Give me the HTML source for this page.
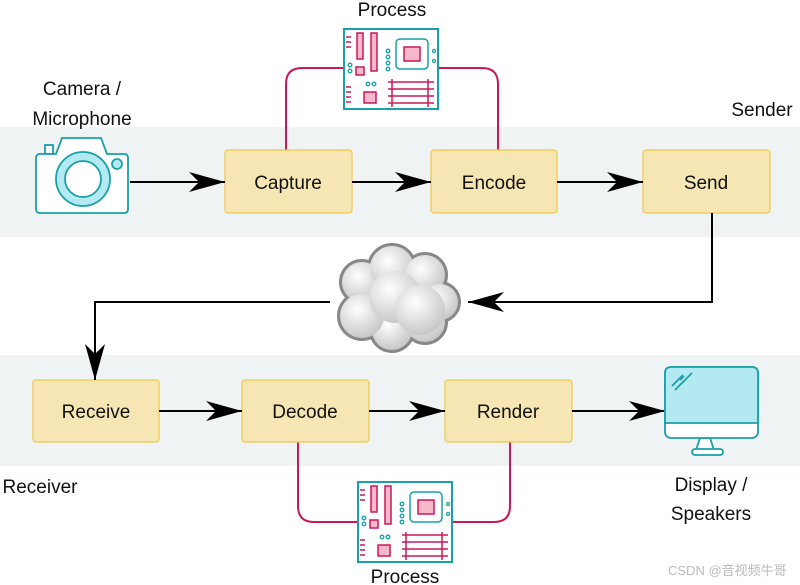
<!DOCTYPE html>
<html><head><meta charset="utf-8"><style>
html,body{margin:0;padding:0;background:#fff;}
svg{display:block;font-family:"Liberation Sans","Noto Sans CJK SC",sans-serif;}
</style></head><body>
<svg width="800" height="585" viewBox="0 0 800 585" xmlns="http://www.w3.org/2000/svg">
<defs>
<marker id="ah" markerWidth="40" markerHeight="20" refX="36" refY="10" orient="auto" markerUnits="userSpaceOnUse">
<path d="M0,0 L36,10 L0,20 L10,10 Z" fill="#000"/>
</marker>
<radialGradient id="cg" cx="40%" cy="35%" r="70%"><stop offset="0" stop-color="#fff"/><stop offset="1" stop-color="#c4c4c4"/></radialGradient>
<g id="mb">
<rect x="0" y="0" width="94" height="80" fill="#fff" stroke="#1aa0a8" stroke-width="2"/>
<g stroke="#c8195a" stroke-width="1.5"><line x1="2" y1="8" x2="7" y2="8"/><line x1="2" y1="13" x2="7" y2="13"/><line x1="2" y1="18" x2="7" y2="18"/><line x1="2" y1="58" x2="7" y2="58"/><line x1="2" y1="63" x2="7" y2="63"/><line x1="2" y1="68" x2="7" y2="68"/><line x1="2" y1="73" x2="7" y2="73"/></g>
<rect x="13" y="4" width="6" height="26" fill="#f6b9cb" stroke="#c8195a" stroke-width="1.5"/>
<rect x="27" y="4" width="6" height="38" fill="#f6b9cb" stroke="#c8195a" stroke-width="1.5"/>
<rect x="12" y="38" width="8" height="8" fill="#f6b9cb" stroke="#c8195a" stroke-width="1.5"/>
<rect x="52" y="10" width="32" height="30" rx="4" fill="#fff" stroke="#1aa0a8" stroke-width="1.5"/>
<rect x="60" y="18" width="16" height="14" fill="#f6b9cb" stroke="#c8195a" stroke-width="1.5"/>
<rect x="20" y="63" width="12" height="11" fill="#f6b9cb" stroke="#c8195a" stroke-width="1.5"/>
<g stroke="#c8195a" stroke-width="1.5"><line x1="44" y1="53" x2="90" y2="53"/><line x1="44" y1="60" x2="90" y2="60"/><line x1="44" y1="67" x2="90" y2="67"/><line x1="44" y1="74" x2="90" y2="74"/><line x1="48" y1="50" x2="48" y2="78"/><line x1="84" y1="50" x2="84" y2="78"/></g>
<g fill="none" stroke="#1aa0a8" stroke-width="1.3"><circle cx="44" cy="22" r="1.8"/><circle cx="44" cy="28" r="1.8"/><circle cx="44" cy="34" r="1.8"/><circle cx="44" cy="40" r="1.8"/><circle cx="6" cy="36" r="1.8"/><circle cx="6" cy="42" r="1.8"/><circle cx="24" cy="55" r="1.8"/><circle cx="30" cy="55" r="1.8"/><circle cx="90" cy="22" r="1.5"/><circle cx="90" cy="32" r="1.5"/></g>
</g>
</defs>
<rect x="0" y="127" width="800" height="110" fill="#eff3f4"/>
<rect x="0" y="355" width="800" height="111" fill="#eff3f4"/>
<g fill="none" stroke="#c8195a" stroke-width="2">
<path d="M286,150 V84 Q286,68 302,68 H344"/>
<path d="M438,68 H482 Q498,68 498,84 V150"/>
<path d="M298,442 V506 Q298,522 314,522 H358"/>
<path d="M452,522 H494 Q510,522 510,506 V442"/>
</g>
<use href="#mb" x="344" y="29"/>
<use href="#mb" x="358" y="482"/>
<g fill="#f5e6b4" stroke="#eec84a" stroke-width="1.2">
<rect x="225" y="150" width="127" height="63" rx="3"/>
<rect x="431" y="150" width="126" height="63" rx="3"/>
<rect x="643" y="150" width="127" height="63" rx="3"/>
<rect x="33" y="380" width="126" height="62" rx="3"/>
<rect x="242" y="380" width="127" height="62" rx="3"/>
<rect x="445" y="380" width="127" height="62" rx="3"/>
</g>
<g font-size="19" text-anchor="middle" fill="#111">
<text x="288" y="189">Capture</text><text x="494" y="189">Encode</text><text x="706" y="189">Send</text>
<text x="96" y="418">Receive</text><text x="305" y="418">Decode</text><text x="508" y="418">Render</text>
<text x="392" y="16">Process</text><text x="405" y="583">Process</text>
<text x="82" y="95">Camera /</text><text x="82" y="125">Microphone</text>
<text x="711" y="491">Display /</text><text x="711" y="520">Speakers</text>
<text x="762" y="116">Sender</text><text x="40" y="493">Receiver</text>
</g>
<text x="668" y="575" font-size="13" fill="#bbb">CSDN @音视频牛哥</text>
<g stroke="#000" stroke-width="2" fill="none" marker-end="url(#ah)">
<line x1="130" y1="182" x2="225" y2="182"/>
<line x1="352" y1="182" x2="431" y2="182"/>
<line x1="557" y1="182" x2="643" y2="182"/>
<path d="M712,213 V302 H468"/>
<path d="M330,302 H95 V380"/>
<line x1="159" y1="411" x2="242" y2="411"/>
<line x1="369" y1="411" x2="445" y2="411"/>
<line x1="572" y1="411" x2="665" y2="411"/>
</g>
<g stroke="#1aa0a8" stroke-width="1.8">
<rect x="45" y="145" width="8" height="9" fill="#fff"/>
<path d="M38,154 H56 L62,138 H101 L107,154 H124 Q128,154 128,158 V209 Q128,213 124,213 H40 Q36,213 36,209 V158 Q36,154 40,154 Z" fill="#fff"/>
<circle cx="83" cy="179" r="27" fill="#b3eaf1"/>
<circle cx="83" cy="179" r="18" fill="#fff"/>
<circle cx="117" cy="164" r="5" fill="#b3eaf1"/>
</g>
<!-- cloud -->
<g fill="#999" stroke="#888" stroke-width="6">
<circle cx="362" cy="282" r="20"/><circle cx="392" cy="268" r="22"/><circle cx="425" cy="275" r="20"/><circle cx="440" cy="302" r="18"/><circle cx="425" cy="322" r="20"/><circle cx="392" cy="330" r="20"/><circle cx="362" cy="316" r="22"/>
</g>
<g fill="url(#cg)">
<circle cx="362" cy="282" r="20"/><circle cx="392" cy="268" r="22"/><circle cx="425" cy="275" r="20"/><circle cx="440" cy="302" r="18"/><circle cx="425" cy="322" r="20"/><circle cx="392" cy="330" r="20"/><circle cx="362" cy="316" r="22"/>
<circle cx="395" cy="297" r="26"/><circle cx="420" cy="310" r="25"/>
</g>
<g stroke="#1aa0a8" stroke-width="1.8">
<path d="M700,438 L696,450 H714 L710,438 Z" fill="#fff"/>
<rect x="692" y="449" width="31" height="6" rx="3" fill="#fff"/>
<rect x="665" y="367" width="93" height="71" rx="6" fill="#fff"/>
<path d="M665,423 V373 Q665,367 671,367 H752 Q758,367 758,373 V423 Z" fill="#b3eaf1"/>
<path d="M672,386 L683,375 M675,390 L692,373 M680,380 L684,376" fill="none"/>
</g>
</svg>
</body></html>
